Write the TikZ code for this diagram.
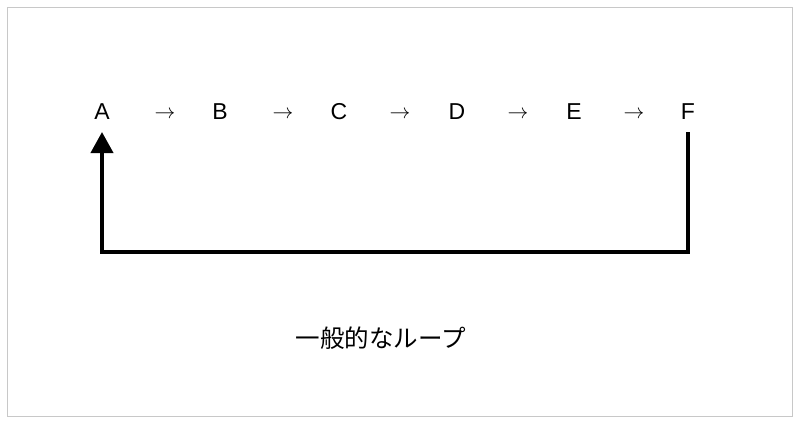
\documentclass[tikz,border=0pt]{standalone}
\usepackage{fontspec}
\setmainfont{Liberation Sans}
\newfontfamily\jpfont{Noto Sans CJK JP}
\usetikzlibrary{arrows.meta}
\definecolor{framegray}{HTML}{C8C8C8}
\tikzset{
	letter/.style={font=\fontsize{23}{28}\selectfont, inner sep=0pt, text depth=0pt, anchor=base, outer ysep=13pt},
	step arrow/.style={font=\fontsize{21}{26}\selectfont, inner sep=0pt},
	loop line/.style={line width=4pt, -{Triangle[length=21pt,width=22pt]}}
}
\begin{document}
\begin{tikzpicture}[x=1pt,y=-1pt]
		\useasboundingbox (0,0) rectangle (800,424);
		\draw[framegray, line width=1pt] (7.5,7.5) rectangle (792.5,416.5);

		\node[letter] (A) at (102,119) {A};
		\node[letter] (B) at (220,119) {B};
		\node[letter] (C) at (339,119) {C};
		\node[letter] (D) at (457,119) {D};
		\node[letter] (E) at (574,119) {E};
		\node[letter] (F) at (688,119) {F};

		\node[step arrow] (ab) at (165,114.5) {$\rightarrow$};
		\node[step arrow] (bc) at (283,114.5) {$\rightarrow$};
		\node[step arrow] (cd) at (400,114.5) {$\rightarrow$};
		\node[step arrow] (de) at (518,114.5) {$\rightarrow$};
		\node[step arrow] (ef) at (634,114.5) {$\rightarrow$};

		\coordinate (bottom) at (0,252);
		\draw[loop line] (F.south) |- (bottom -| A.south) -- (A.south);

		\node[font=\jpfont\fontsize{24.5}{30}\selectfont] (title) at (381,338) {一般的なループ};
	\end{tikzpicture}
\end{document}
